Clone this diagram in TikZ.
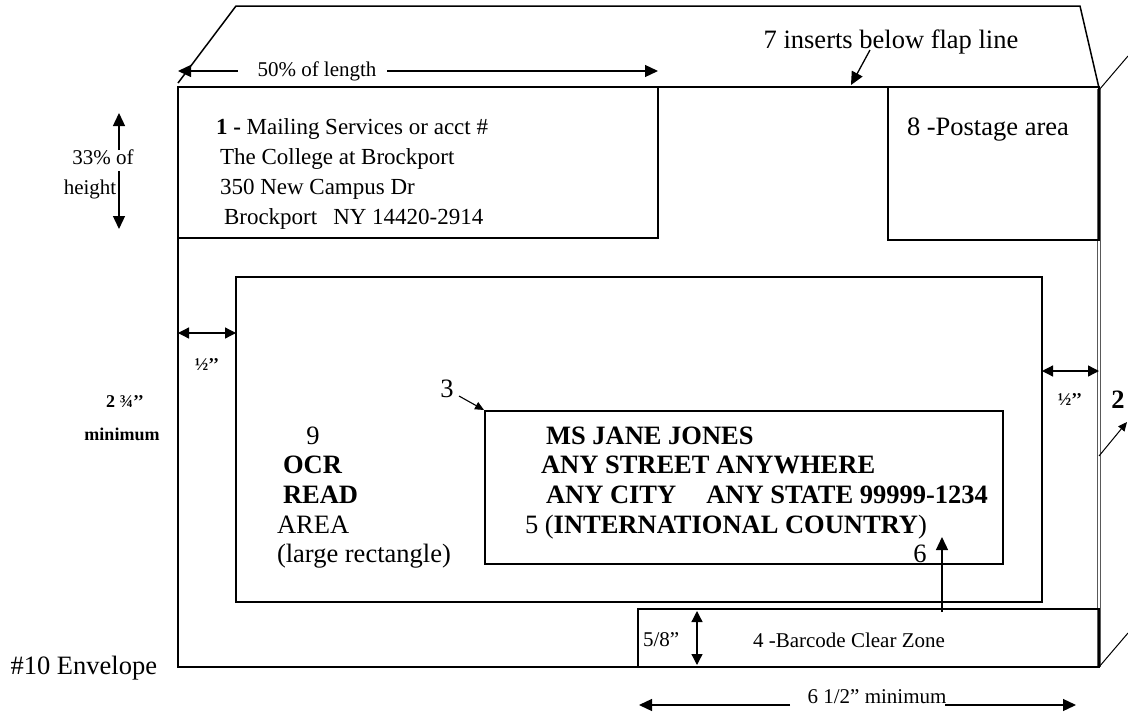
\documentclass[tikz,border=0pt]{standalone}
\usepackage{fontspec}
\setmainfont{Liberation Serif}
\usetikzlibrary{arrows.meta}
\begin{document}
\begin{tikzpicture}[x=1pt,y=-1pt,
  every node/.style={inner sep=0pt, outer sep=0pt},
  edge/.style={line width=1.5pt},
  thinedge/.style={line width=1pt},
  tip/.style={line width=1.3pt,-{Triangle[length=13pt,width=12pt]}},
  tips/.style={line width=1.3pt,{Triangle[length=11pt,width=11pt]}-{Triangle[length=11pt,width=11pt]}},
  smalltip/.style={line width=1.1pt,-{Triangle[length=9pt,width=8pt]}},
  big/.style={font=\fontsize{26.5}{30}\selectfont},
  bigb/.style={font=\fontsize{26.5}{30}\selectfont\bfseries},
  ret/.style={font=\fontsize{23}{27}\selectfont},
  small/.style={font=\fontsize{21}{25}\selectfont},
  lbl/.style={font=\fontsize{18}{22}\selectfont\bfseries},
]
\useasboundingbox (0,0) rectangle (1128,715);

% ---- envelope outline and flap
\coordinate (flapL) at (178,83);
\coordinate (flapA) at (236,6);
\coordinate (flapB) at (1080,6);
\coordinate (flapR) at (1099,88);
\draw[edge] (flapL) -- (flapA) -- (flapB) -- (flapR);
\coordinate (eTL) at (178,87);
\coordinate (eTR) at (1099,87);
\coordinate (eBL) at (178,667);
\coordinate (eBR) at (1099,667);
\draw[edge] (eTR) -- (eTL) -- (eBL) -- (eBR);
\draw[draw=black!65, double=white, double distance=1.4pt, line width=1pt] (1099,89) -- (eBR);
\coordinate (sideT) at (1128,56);
\coordinate (sideB) at (1128,633);
\draw[thinedge] (1099,90) -- (sideT);
\draw[thinedge] (eBR) -- (sideB);

% ---- boxes
\draw[edge] (178,87) rectangle (658,238);
\draw[edge] (888,87) rectangle (1099,240);
\draw[edge] (236,277) rectangle (1042,602);
\draw[edge] (485,411) rectangle (1003,564);
\draw[edge] (638,609) rectangle (1099,667);

% ---- 50% of length
\node[small] (t50) at (317,71) {50\% of length};
\coordinate (a50l) at (178,71);
\coordinate (a50r) at (658,71);
\draw[tip] ([xshift=-20pt]t50.west) -- (a50l);
\draw[tip] ([xshift=11pt]t50.east) -- (a50r);

% ---- 7 inserts
\node[big, anchor=base] (t7) at (891,48) {7 inserts below flap line};
\coordinate (a7) at (851,85);
\draw[tip] (870,50) -- (a7);

% ---- return address
\node[ret, anchor=base west] (r1) at (216,134) {\textbf{1 -} Mailing Services or acct \#};
\node[ret, anchor=base west] (r2) at (220,164) {The College at Brockport};
\node[ret, anchor=base west] (r3) at (220,194) {350 New Campus Dr};
\node[ret, anchor=base west] (r4) at (224,224) {Brockport\hspace{16pt}NY 14420-2914};

% ---- postage
\node[big, anchor=base west] (t8) at (907,135) {8 -Postage area};

% ---- 33% of height
\node[small] (t33) at (103,157) {33\% of};
\node[small] (th) at (90,189) {height};
\coordinate (a33t) at (119,113);
\coordinate (a33b) at (119,229);
\draw[tip] (119,150) -- (a33t);
\draw[tip] (119,171) -- (a33b);

% ---- half inch margins
\coordinate (hl1) at (178,333);
\coordinate (hl2) at (236,333);
\draw[tips] (hl1) -- (hl2);
\node[lbl] (th1) at (207,365) {½’’};
\coordinate (hr1) at (1042,371);
\coordinate (hr2) at (1099,371);
\draw[tips] (hr1) -- (hr2);
\node[lbl] (th2) at (1070,400) {½’’};

\node[lbl] (t234) at (125,402) {2 ¾’’};
\node[lbl] (tmin) at (122,434) {minimum};

% ---- 2
\node[bigb] (t2) at (1118,400) {2};
\coordinate (a2s) at (1099,456);
\coordinate (a2e) at (1127,422);
\draw[thinedge,-{Triangle[length=9pt,width=8pt]}] (a2s) -- (a2e);

% ---- 3
\node[big] (t3) at (447,389) {3};
\coordinate (a3) at (484,410);
\draw[smalltip] (459,396) -- (a3);

% ---- address
\node[bigb, anchor=base west] (m1) at (546,444) {MS JANE JONES};
\node[bigb, anchor=base west] (m2) at (541,473) {ANY STREET ANYWHERE};
\node[bigb, anchor=base west] (m3) at (546,503) {ANY CITY\hspace{30pt}ANY STATE 99999-1234};
\node[big, anchor=base west] (m4) at (525,533) {5 (\textbf{INTERNATIONAL COUNTRY})};
\node[big, anchor=base] (t6) at (920,562) {6};
\coordinate (a6s) at (942,612);
\coordinate (a6e) at (942,537);
\draw[tip] (a6s) -- (a6e);

% ---- OCR area
\node[big, anchor=base] (t9) at (313,444) {9};
\node[bigb, anchor=base west] (o1) at (283,473) {OCR};
\node[bigb, anchor=base west] (o2) at (283,503) {READ};
\node[big, anchor=base west] (o3) at (277,533) {AREA};
\node[big, anchor=base west] (o4) at (277,562) {(large rectangle)};

% ---- barcode zone
\node[small, anchor=west] (t58) at (643,640) {5/8”};
\coordinate (b1) at (697,611);
\coordinate (b2) at (697,665);
\draw[tips] (b1) -- (b2);
\node[small] (t4) at (849,640) {4 -Barcode Clear Zone};

% ---- 6 1/2 minimum
\node[small] (t65) at (877,697) {6 1/2” minimum};
\coordinate (m65l) at (639,705);
\coordinate (m65r) at (1076,705);
\draw[tip] (790,705) -- (m65l);
\draw[tip] (945,705) -- (m65r);

% ---- caption
\node[big, anchor=east] (cap) at (157,668) {\#10 Envelope};
\end{tikzpicture}
\end{document}
